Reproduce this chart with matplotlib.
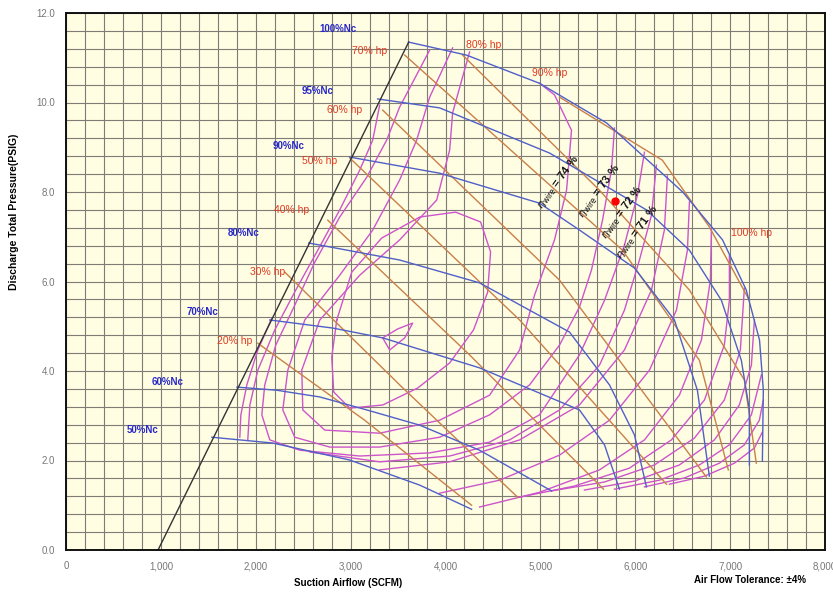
import numpy as np
import matplotlib.pyplot as plt
from matplotlib.ticker import MultipleLocator, FuncFormatter

plt.rcParams["font.family"] = ["Liberation Sans", "DejaVu Sans"]
plt.rcParams["mathtext.fontset"] = "dejavusans"

# ---- speed lines (SCFM, PSIG) ----
speed_lines = {
    "100%Nc": ([3610, 4220, 4990, 5700, 6500, 6920, 7170, 7310, 7350, 7340],
               [11.35, 11.06, 10.43, 9.54, 8.00, 6.93, 5.81, 4.69, 3.57, 1.99]),
    "95%Nc": ([3285, 3938, 5097, 6118, 6571, 6908, 7118, 7203, 7203],
              [10.08, 9.88, 8.87, 7.60, 6.70, 5.58, 4.24, 3.13, 1.90]),
    "90%Nc": ([2991, 3938, 4991, 5412, 5992, 6413, 6655, 6781],
              [8.78, 8.42, 7.75, 7.15, 6.30, 5.14, 3.57, 1.65]),
    "80%Nc": ([2559, 3517, 4359, 5307, 5728, 5992, 6118],
              [6.86, 6.48, 5.97, 4.87, 3.69, 2.57, 1.41]),
    "70%Nc": ([2148, 2811, 3338, 4359, 5412, 5676, 5833],
              [5.14, 4.96, 4.74, 4.07, 3.13, 2.35, 1.36]),
    "60%Nc": ([1801, 2222, 2675, 3170, 3728, 4359, 5118],
              [3.64, 3.57, 3.42, 3.13, 2.79, 2.23, 1.32]),
    "50%Nc": ([1537, 2180, 2991, 3728, 4275],
              [2.52, 2.39, 2.01, 1.45, 0.91]),
}
speed_label_x = [2864, 2654, 2348, 1874, 1443, 1074, 811]
speed_label_y = [11.64, 10.26, 9.03, 7.08, 5.32, 3.75, 2.68]

surge_x = [970, 3612]
surge_y = [0.0, 11.35]

# ---- horsepower lines ----
hp_lines = [
    ([2022, 3148, 4275], [4.62, 2.90, 1.00]),
    ([2306, 3517, 4760], [6.21, 3.69, 1.18]),
    ([2759, 4254, 5665], [7.37, 4.36, 1.36]),
    ([2991, 4781, 6329], [8.76, 5.14, 1.47]),
    ([3338, 5202, 6750], [9.83, 6.03, 1.63]),
    ([3570, 5865, 6676, 6981], [11.06, 6.70, 4.24, 1.79]),
    ([4180, 5623, 6571, 7150, 7276], [11.06, 8.04, 5.81, 3.80, 1.94]),
    ([5202, 6286, 6781, 7203], [10.12, 8.71, 7.22, 5.58]),
]
hp_labels = ["20% hp", "30% hp", "40% hp", "50% hp", "60% hp", "70% hp",
             "80% hp", "90% hp", "100% hp"]
hp_label_x = [1780, 2127, 2380, 2675, 2938, 3201, 4402, 5097, 7224]
hp_label_y = [4.67, 6.21, 7.60, 8.69, 9.83, 11.15, 11.28, 10.66, 7.08]

# ---- efficiency contours ----
eff_contours = [
    # inner islands
    ([3338, 3496, 3654, 3570, 3412, 3338], [4.74, 4.94, 5.07, 4.74, 4.47, 4.74]),
    ([2854, 3012, 3327, 3728, 4107, 4370, 4475, 4444, 4296, 4044, 3707, 3338, 2991, 2822, 2801, 2854],
     [5.14, 6.21, 6.97, 7.44, 7.55, 7.33, 6.66, 5.76, 4.92, 4.18, 3.62, 3.24, 3.17, 3.53, 4.31, 5.14]),
    # open contours
    ([4254, 4075, 4044, 3907, 3517, 3096, 2675, 2485, 2496, 2727, 3306, 3938, 4465, 4781, 4939, 5149, 5276, 5328, 5149, 4991],
     [11.13, 9.77, 8.94, 7.82, 6.93, 6.14, 5.14, 4.02, 3.13, 2.68, 2.61, 2.90, 3.46, 4.47, 5.70, 6.93, 8.04, 9.38, 10.17, 10.43]),
    ([4075, 3833, 3696, 3517, 3233, 2885, 2517, 2338, 2285, 2411, 2780, 3306, 3938, 4465, 4886, 5202, 5412, 5539, 5655, 5749, 5781],
     [11.22, 10.12, 9.16, 8.27, 7.15, 6.14, 5.14, 4.02, 3.13, 2.52, 2.30, 2.30, 2.52, 3.02, 3.69, 4.58, 5.43, 6.26, 7.37, 8.49, 9.43]),
    ([3833, 3517, 3380, 3170, 2885, 2622, 2411, 2211, 2095, 2064, 2148, 2464, 3096, 3833, 4465, 4991, 5412, 5676, 5886, 6023, 6097],
     [11.17, 9.90, 9.16, 8.33, 7.44, 6.43, 5.47, 4.58, 3.69, 3.02, 2.46, 2.23, 2.10, 2.17, 2.41, 3.02, 4.36, 5.58, 6.81, 7.93, 8.89]),
    ([2570, 3306, 4044, 4675, 5202, 5623, 5886, 6044, 6171, 6223],
     [2.19, 1.97, 2.10, 2.46, 3.13, 4.13, 5.36, 6.48, 7.48, 8.60]),
    ([3306, 3233, 3096, 2885, 2654, 2422, 2201, 2022, 1938, 1916],
     [9.94, 9.16, 8.49, 7.60, 6.70, 5.81, 4.92, 4.02, 3.24, 2.46]),
    ([2169, 2022, 1906, 1843, 1832], [5.18, 4.47, 3.69, 3.02, 2.52]),
    ([3306, 4044, 4781, 5412, 5886, 6171, 6307, 6339],
     [1.79, 1.97, 2.46, 3.24, 4.47, 5.81, 7.15, 8.36]),
    ([3938, 4570, 5202, 5728, 6150, 6434, 6550, 6571],
     [1.27, 1.56, 2.12, 2.90, 4.02, 5.36, 6.70, 7.78]),
    ([4359, 4991, 5623, 6097, 6465, 6697, 6792, 6803],
     [0.96, 1.29, 1.79, 2.46, 3.46, 4.69, 6.03, 7.19]),
    ([4781, 5360, 5939, 6381, 6729, 6939, 6992, 6992],
     [1.18, 1.43, 1.83, 2.46, 3.35, 4.58, 5.58, 6.57]),
    ([5118, 5676, 6202, 6623, 6939, 7108, 7150],
     [1.32, 1.52, 1.90, 2.50, 3.35, 4.47, 5.85]),
    ([5465, 5992, 6465, 6834, 7097, 7224, 7256],
     [1.34, 1.54, 1.90, 2.46, 3.24, 4.13, 5.14]),
    ([5781, 6255, 6676, 6992, 7224, 7329],
     [1.36, 1.56, 1.90, 2.35, 3.02, 3.91]),
    ([6097, 6518, 6887, 7150, 7308, 7350],
     [1.41, 1.61, 1.94, 2.35, 2.90, 3.35]),
    ([6360, 6729, 7045, 7256, 7339], [1.47, 1.65, 1.94, 2.28, 2.63]),
]

eta_labels = ["74", "73", "72", "71"]
eta_x = [5181, 5623, 5855, 6023]
eta_y = [8.22, 8.02, 7.55, 7.10]

point_x, point_y = 5791, 7.80

BLUE = "#5060c8"
MAGENTA = "#cc55cc"
BROWN = "#c8804a"

fig = plt.figure(figsize=(8.33, 5.93), dpi=100)
ax = fig.add_axes([66 / 833, 43 / 593, 759 / 833, 537 / 593])
ax.set_facecolor("#fffde2")
ax.set_xlim(0, 8000)
ax.set_ylim(0, 12)

ax.xaxis.set_major_locator(MultipleLocator(1000))
ax.xaxis.set_minor_locator(MultipleLocator(200))
ax.yaxis.set_major_locator(MultipleLocator(2))
ax.yaxis.set_minor_locator(MultipleLocator(0.4))
ax.grid(which="both", color="#7d7d75", linewidth=0.8)
ax.set_axisbelow(True)
ax.xaxis.set_major_formatter(FuncFormatter(lambda v, p: f"{int(v):,}"))
ax.yaxis.set_major_formatter(FuncFormatter(lambda v, p: f"{v:.1f}"))
ax.tick_params(which="both", length=0, labelsize=7, colors="#777777", pad=8)
for s in ax.spines.values():
    s.set_linewidth(1.4)
    s.set_color("#111111")

for xs, ys in eff_contours:
    ax.plot(xs, ys, color=MAGENTA, lw=1.0)
for xs, ys in hp_lines:
    ax.plot(xs, ys, color=BROWN, lw=1.0)
for xs, ys in speed_lines.values():
    ax.plot(xs, ys, color=BLUE, lw=1.0)
ax.plot(surge_x, surge_y, color="#333333", lw=1.0)

for name, x, y in zip(speed_lines.keys(), speed_label_x, speed_label_y):
    ax.text(x, y, name, color="#2828c8", fontsize=7, fontweight="bold",
            ha="center", va="center")
for name, x, y in zip(hp_labels, hp_label_x, hp_label_y):
    ax.text(x, y, name, color="#e03a20", fontsize=7.5, ha="center", va="center")
for v, x, y in zip(eta_labels, eta_x, eta_y):
    ax.text(x, y, r"$\eta_{\mathrm{wire}}$ = " + v + " %", fontsize=8,
            rotation=54, rotation_mode="anchor", ha="center", va="center",
            color="#111111", fontweight="bold")

ax.plot(point_x, point_y, "o", color="red", markersize=5)

fig.text(348 / 833, 1 - 583 / 593, "Suction Airflow (SCFM)", fontsize=7,
         fontweight="bold", ha="center", va="center")
fig.text(750 / 833, 1 - 580 / 593, "Air Flow Tolerance: \u00b14%", fontsize=7,
         fontweight="bold", ha="center", va="center")
fig.text(14 / 833, 1 - 212 / 593, "Discharge Total Pressure(PSIG)", fontsize=7.5,
         fontweight="bold", rotation=90, ha="center", va="center")

fig.savefig("out.png", dpi=100, facecolor="white")
